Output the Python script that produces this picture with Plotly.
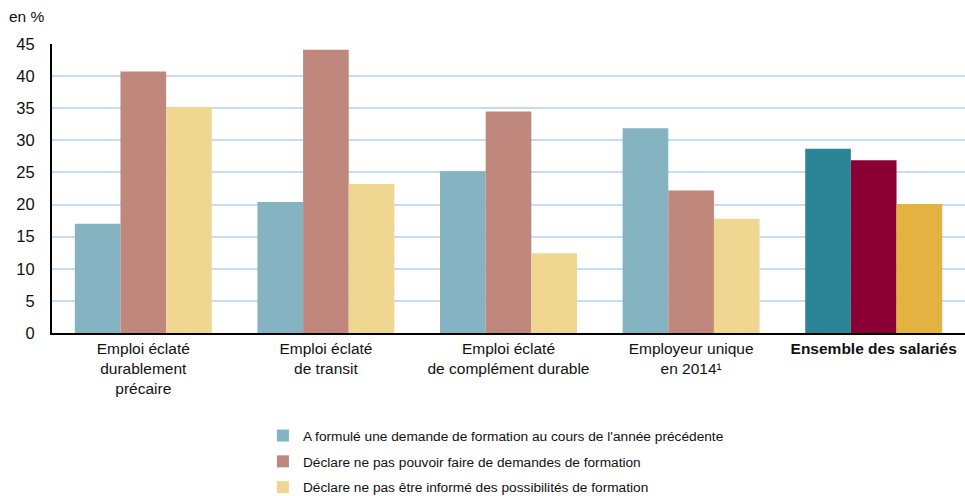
import plotly.graph_objects as go

categories = [
    "Emploi éclaté<br>durablement<br>précaire",
    "Emploi éclaté<br>de transit",
    "Emploi éclaté<br>de complément durable",
    "Employeur unique<br>en 2014¹",
    "<b>Ensemble des salariés</b>",
]
series_names = [
    "A formulé une demande de formation au cours de l'année précédente",
    "Déclare ne pas pouvoir faire de demandes de formation",
    "Déclare ne pas être informé des possibilités de formation",
]
demande = [17.0, 20.4, 25.2, 31.9, 28.7]
pas_pouvoir = [40.7, 44.1, 34.5, 22.2, 26.9]
pas_informe = [35.2, 23.2, 12.4, 17.8, 20.1]

light_colors = ["#85B3C1", "#C0877C", "#EFD792"]
dark_colors = ["#2C8597", "#8A0033", "#E3B342"]

font_family = "Liberation Sans, Arial, sans-serif"

fig = go.Figure()
for i, (name, vals) in enumerate(zip(series_names, [demande, pas_pouvoir, pas_informe])):
    colors = [light_colors[i]] * (len(categories) - 1) + [dark_colors[i]]
    fig.add_trace(go.Bar(
        x=categories, y=vals, name=name,
        marker=dict(color=colors, line=dict(width=0)),
        legendgroup=f"g{i}",
    ))

fig.update_layout(
    width=965, height=496,
    margin=dict(l=52, r=0, t=44, b=163),
    plot_bgcolor="white", paper_bgcolor="white",
    barmode="group", bargap=0.25, bargroupgap=0,
    font=dict(family=font_family, size=16, color="#111111"),
    showlegend=True,
    legend=dict(
        orientation="v", xref="paper", x=0.231, xanchor="left",
        yref="container", y=0.153, yanchor="top",
        font=dict(size=13.7, family=font_family, color="#111111"),
        traceorder="grouped", tracegroupgap=5,
        bgcolor="rgba(0,0,0,0)",
    ),
    xaxis=dict(
        showline=True, linecolor="black", linewidth=2,
        ticks="", tickfont=dict(size=15.5), automargin=False,
    ),
    yaxis=dict(
        range=[0, 45], dtick=5, showline=True, linecolor="black", linewidth=2,
        gridcolor="#C6DBF4", gridwidth=1.5, zeroline=False,
        ticks="outside", ticklen=12, tickcolor="rgba(0,0,0,0)",
        tickfont=dict(size=16.5), automargin=False,
    ),
    annotations=[dict(
        text="en %", xref="paper", yref="paper", x=-0.049, y=1.095,
        xanchor="left", yanchor="middle", showarrow=False,
        font=dict(size=15.5, family=font_family),
    )],
)

fig.write_html(
    "out.html",
    config={"displayModeBar": False},
    post_script="document.body.style.margin='0';",
)
